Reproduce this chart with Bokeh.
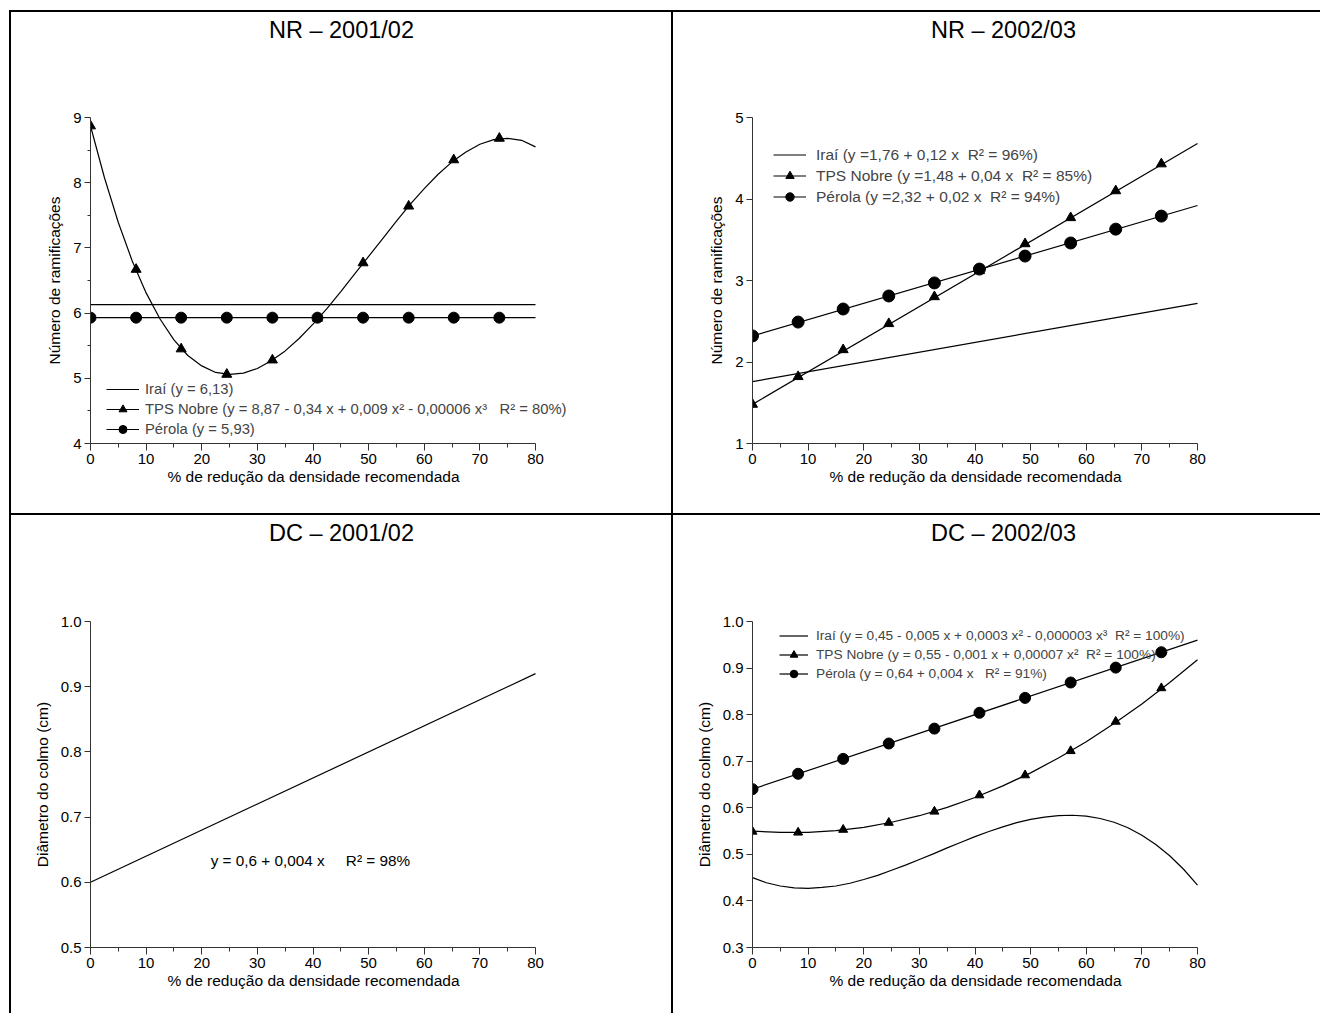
import re
from bokeh.plotting import figure
from bokeh.models import (Range1d, FixedTicker, Legend, LegendItem, Label, Div, LinearAxis,
                          NumeralTickFormatter)
from bokeh.layouts import column, row
from bokeh.embed import file_html
from bokeh.resources import INLINE

FONT = "Liberation Sans"

# ---------------- data ----------------
x_pts = [0, 8.2, 16.3, 24.5, 32.7, 40.8, 49.0, 57.2, 65.3, 73.5]

# NR 2001/02
nr01_tps_pts = [8.87, 6.67, 5.45, 5.06, 5.28, 5.92, 6.77, 7.64, 8.35, 8.68]
nr01_per_pts = [5.93, 5.93, 5.93, 5.93, 5.93, 5.93, 5.93, 5.93, 5.93, 5.93]
nr01_curve_x = [0, 2.5, 5, 7.5, 10, 12.5, 15, 17.5, 20, 22.5, 25, 27.5, 30, 32.5, 35, 37.5, 40,
                42.5, 45, 47.5, 50, 52.5, 55, 57.5, 60, 62.5, 65, 67.5, 70, 72.5, 75, 77.5, 80]
nr01_tps_curve = [8.87, 8.08, 7.39, 6.80, 6.31, 5.91, 5.59, 5.35, 5.19, 5.09, 5.06, 5.08, 5.15, 5.27,
                  5.42, 5.61, 5.83, 6.07, 6.33, 6.60, 6.87, 7.14, 7.41, 7.67, 7.91, 8.13, 8.32, 8.47,
                  8.59, 8.66, 8.68, 8.65, 8.55]
nr01_line_x = [0, 80]
nr01_irai_line = [6.13, 6.13]
nr01_per_line = [5.93, 5.93]

# NR 2002/03
nr02_line_x = [0, 80]
nr02_irai_line = [1.76, 2.72]
nr02_tps_line = [1.48, 4.68]
nr02_per_line = [2.32, 3.92]
nr02_tps_pts = [1.48, 1.82, 2.15, 2.47, 2.80, 3.12, 3.45, 3.77, 4.10, 4.43]
nr02_per_pts = [2.32, 2.49, 2.65, 2.81, 2.97, 3.14, 3.30, 3.46, 3.63, 3.79]

# DC 2001/02
dc01_line_x = [0, 80]
dc01_line = [0.60, 0.92]

# DC 2002/03
dc02_curve_x = [0, 2.5, 5, 7.5, 10, 12.5, 15, 17.5, 20, 22.5, 25, 27.5, 30, 32.5, 35, 37.5, 40,
                42.5, 45, 47.5, 50, 52.5, 55, 57.5, 60, 62.5, 65, 67.5, 70, 72.5, 75, 77.5, 80]
dc02_irai_curve = [0.450, 0.439, 0.432, 0.428, 0.427, 0.429, 0.432, 0.438, 0.446, 0.455, 0.466,
                   0.477, 0.489, 0.501, 0.514, 0.526, 0.538, 0.549, 0.559, 0.568, 0.575, 0.580,
                   0.583, 0.584, 0.582, 0.577, 0.569, 0.557, 0.541, 0.521, 0.497, 0.468, 0.434]
dc02_tps_x = [0, 5, 10, 15, 20, 25, 30, 35, 40, 45, 50, 55, 60, 65, 70, 75, 80]
dc02_tps_curve = [0.550, 0.547, 0.547, 0.551, 0.558, 0.569, 0.583, 0.601, 0.622, 0.647, 0.675,
                  0.707, 0.742, 0.781, 0.823, 0.869, 0.918]
dc02_tps_pts = [0.549, 0.547, 0.553, 0.568, 0.592, 0.627, 0.670, 0.722, 0.785, 0.857]
dc02_per_line_x = [0, 80]
dc02_per_line = [0.64, 0.96]
dc02_per_pts = [0.640, 0.673, 0.705, 0.738, 0.770, 0.804, 0.836, 0.869, 0.901, 0.934]

x_ticks = [0, 10, 20, 30, 40, 50, 60, 70, 80]
x_minor = [5, 15, 25, 35, 45, 55, 65, 75]
XLABEL = "% de redução da densidade recomendada"

FW = 502                # frame width (axis itself spans 445 px = 0..80)
XEND = 80 * FW / 445.0  # so that 80 falls 445 px from the left of the frame


def keep_spaces(s):
    return re.sub(r" {2,}", lambda m: "\u00a0" * len(m.group()), s)


# the axis label is centred on the (wider) frame; trailing no-break spaces
# bring the visible words back over the 0..80 axis
XLABEL_SHIFTED = XLABEL + "\u00a0" * 13


def make_panel(title, ylabel, y0, y1, yticks, yminor, width, height, top, bottom, title_standoff,
               yfmt=None):
    p = figure(output_backend="svg", toolbar_location=None, frame_width=FW, frame_height=326,
               x_range=Range1d(0, XEND), y_range=Range1d(y0, y1),
               min_border_left=79, min_border_right=width - 79 - FW,
               min_border_top=top, min_border_bottom=bottom)
    p.title = None
    p.grid.visible = False
    p.outline_line_color = None
    p.background_fill_color = "white"
    p.border_fill_color = "white"
    xa = p.below[0]
    ya = p.left[0]
    xa.ticker = FixedTicker(ticks=x_ticks, minor_ticks=x_minor)
    xa.bounds = (0, 80)
    ya.ticker = FixedTicker(ticks=yticks, minor_ticks=yminor)
    if yfmt:
        ya.formatter = NumeralTickFormatter(format=yfmt)
    xa.axis_label = XLABEL_SHIFTED
    ya.axis_label = ylabel
    for ax in (xa, ya):
        ax.axis_line_color = "#333333"
        ax.major_tick_line_color = "#333333"
        ax.minor_tick_line_color = "#333333"
        ax.major_tick_in = 0
        ax.minor_tick_in = 0
        ax.major_label_text_font = FONT
        ax.major_label_text_font_size = "15px"
        ax.major_label_text_color = "black"
        ax.axis_label_text_font = FONT
        ax.axis_label_text_font_size = "15.5px"
        ax.axis_label_text_font_style = "normal"
        ax.axis_label_text_color = "black"
    xa.major_tick_out = 7
    xa.minor_tick_out = 4
    xa.major_label_standoff = 3
    xa.axis_label_standoff = 1
    ya.major_tick_out = 6
    ya.minor_tick_out = 3
    ya.major_label_standoff = 3
    ya.axis_label_standoff = 7
    # panel title, centred over the panel
    ta = LinearAxis(axis_label=title, ticker=FixedTicker(ticks=[]), axis_line_color=None,
                    major_tick_line_color=None, minor_tick_line_color=None,
                    major_tick_out=0, minor_tick_out=0, major_label_standoff=0,
                    major_label_text_font_size="0px", axis_label_standoff=title_standoff,
                    axis_label_text_font=FONT, axis_label_text_font_size="23.5px",
                    axis_label_text_font_style="normal", axis_label_text_color="black")
    p.add_layout(ta, "above")
    return p


def add_legend(p, items, x, y, size, standoff, pitch, gw):
    lg = Legend(items=items, location=(x, y), padding=0, margin=0, spacing=0,
                label_height=pitch, glyph_height=pitch, glyph_width=gw,
                label_standoff=standoff, border_line_color=None, background_fill_alpha=0,
                label_text_font=FONT, label_text_font_size=size)
    p.add_layout(lg)


LW = 1.2

# ---------- panel 1 ----------
p1 = make_panel("NR \u2013 2001/02", "Número de ramificações", 4, 9, [4, 5, 6, 7, 8, 9],
                [4.5, 5.5, 6.5, 7.5, 8.5], 660, 501, 105, 70, 75)
r_irai1 = p1.line(nr01_line_x, nr01_irai_line, line_color="black", line_width=LW)
r_tpsl1 = p1.line(nr01_curve_x, nr01_tps_curve, line_color="black", line_width=LW)
r_perl1 = p1.line(nr01_line_x, nr01_per_line, line_color="black", line_width=LW)
r_tpsm1 = p1.scatter(x_pts, nr01_tps_pts, marker="triangle", size=10, color="black")
r_perm1 = p1.scatter(x_pts, nr01_per_pts, marker="circle", size=11, color="black")
add_legend(p1, [LegendItem(label="Iraí (y = 6,13)", renderers=[r_irai1]),
                LegendItem(label=keep_spaces("TPS Nobre (y = 8,87 - 0,34 x + 0,009 x² - 0,00006 x³   R² = 80%)"),
                           renderers=[r_tpsl1, r_tpsm1]),
                LegendItem(label="Pérola (y = 5,93)", renderers=[r_perl1, r_perm1])],
           16, 4, "14.8px", 6, 20, 33)

# ---------- panel 2 ----------
p2 = make_panel("NR \u2013 2002/03", "Número de ramificações", 1, 5, [1, 2, 3, 4, 5], [],
                647, 501, 105, 70, 75)
r_irai2 = p2.line(nr02_line_x, nr02_irai_line, line_color="black", line_width=LW)
r_tpsl2 = p2.line(nr02_line_x, nr02_tps_line, line_color="black", line_width=LW)
r_perl2 = p2.line(nr02_line_x, nr02_per_line, line_color="black", line_width=LW)
r_tpsm2 = p2.scatter(x_pts, nr02_tps_pts, marker="triangle", size=10, color="black")
r_perm2 = p2.scatter(x_pts, nr02_per_pts, marker="circle", size=12, color="black")
add_legend(p2, [LegendItem(label=keep_spaces("Iraí (y =1,76 + 0,12 x  R² = 96%)"), renderers=[r_irai2]),
                LegendItem(label=keep_spaces("TPS Nobre (y =1,48 + 0,04 x  R² = 85%)"),
                           renderers=[r_tpsl2, r_tpsm2]),
                LegendItem(label=keep_spaces("Pérola (y =2,32 + 0,02 x  R² = 94%)"),
                           renderers=[r_perl2, r_perm2])],
           21, 236, "15.5px", 10, 21, 33)

# ---------- panel 3 ----------
p3 = make_panel("DC \u2013 2001/02", "Diâmetro do colmo (cm)", 0.5, 1.0, [0.5, 0.6, 0.7, 0.8, 0.9, 1.0], [],
                660, 498, 106, 66, 76, "0.0")
p3.line(dc01_line_x, dc01_line, line_color="black", line_width=LW)
p3.add_layout(Label(x=21.6, y=0.634, text=keep_spaces("y = 0,6 + 0,004 x     R² = 98%"), text_font=FONT,
                    text_font_size="15.3px", text_baseline="middle", text_color="black"))

# ---------- panel 4 ----------
p4 = make_panel("DC \u2013 2002/03", "Diâmetro do colmo (cm)", 0.3, 1.0,
                [0.3, 0.4, 0.5, 0.6, 0.7, 0.8, 0.9, 1.0], [], 647, 498, 106, 66, 76, "0.0")
r_irai4 = p4.line(dc02_curve_x, dc02_irai_curve, line_color="black", line_width=LW)
r_tpsl4 = p4.line(dc02_tps_x, dc02_tps_curve, line_color="black", line_width=LW)
r_perl4 = p4.line(dc02_per_line_x, dc02_per_line, line_color="black", line_width=LW)
r_tpsm4 = p4.scatter(x_pts, dc02_tps_pts, marker="triangle", size=9, color="black")
r_perm4 = p4.scatter(x_pts, dc02_per_pts, marker="circle", size=11, color="black")
add_legend(p4, [LegendItem(label=keep_spaces("Iraí (y = 0,45 - 0,005 x + 0,0003 x² - 0,000003 x³  R² = 100%)"),
                           renderers=[r_irai4]),
                LegendItem(label=keep_spaces("TPS Nobre (y = 0,55 - 0,001 x + 0,00007 x²  R² = 100%)"),
                           renderers=[r_tpsl4, r_tpsm4]),
                LegendItem(label=keep_spaces("Pérola (y = 0,64 + 0,004 x   R² = 91%)"),
                           renderers=[r_perl4, r_perm4])],
           27, 264, "13.7px", 8, 19, 29)


def bar(w, h):
    return Div(text="", width=w, height=h, margin=0, styles={"background-color": "black"})


layout = column(
    bar(1311, 2),
    row(bar(2, 501), p1, bar(2, 501), p2, spacing=0, margin=0),
    bar(1311, 2),
    row(bar(2, 498), p3, bar(2, 498), p4, spacing=0, margin=0),
    spacing=0, margin=(10, 0, 0, 9),
)

open("out.html", "w").write(file_html(layout, INLINE))
